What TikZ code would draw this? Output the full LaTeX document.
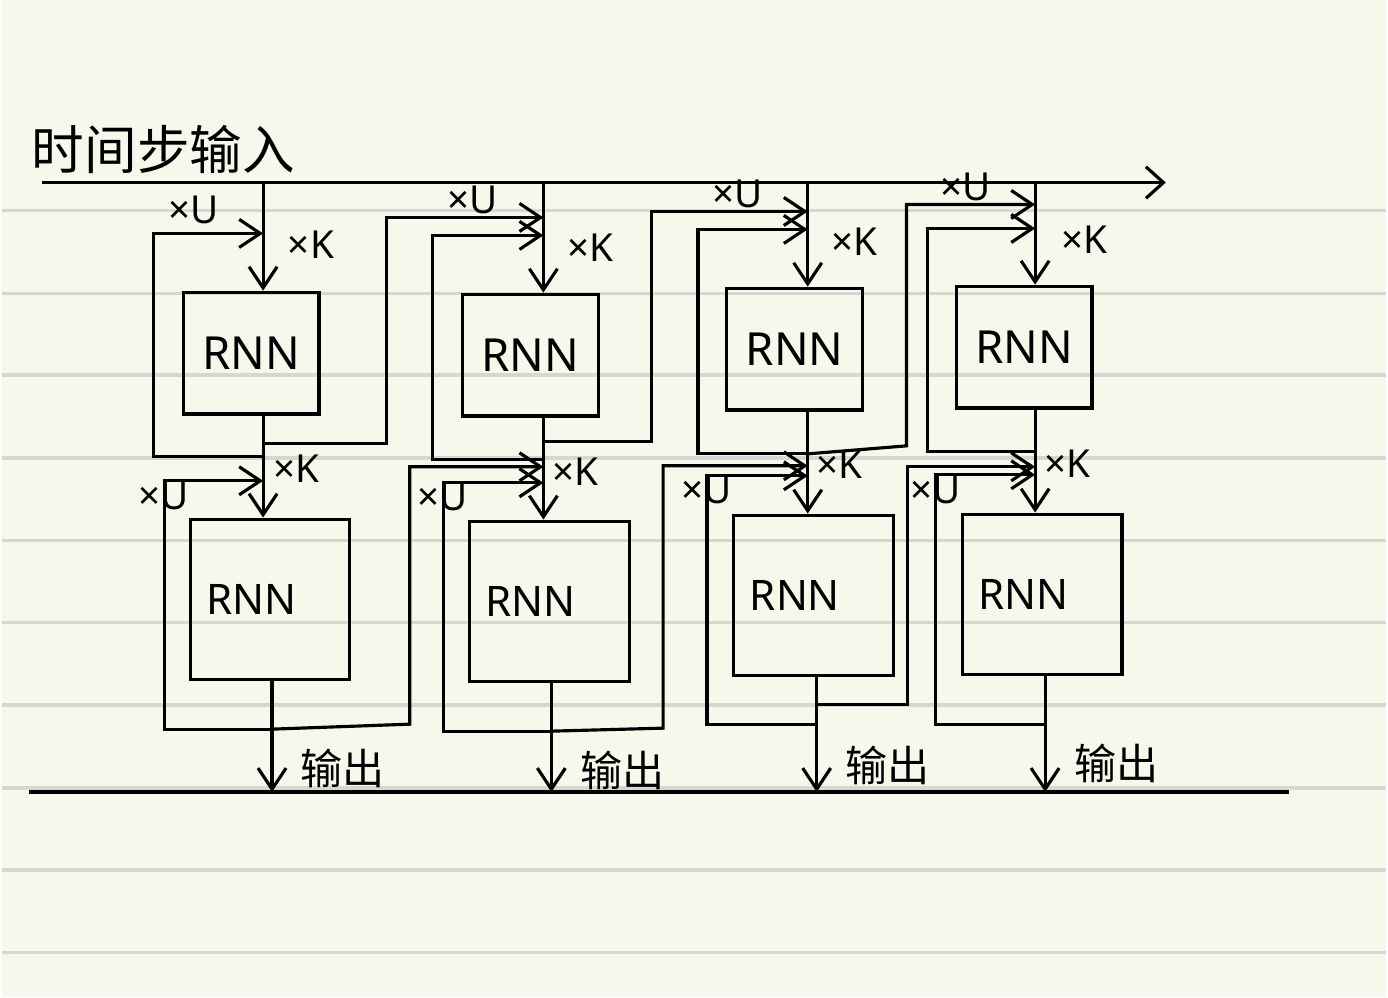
\documentclass[tikz,border=0pt]{standalone}
\usepackage{fontspec}
\setmainfont{Noto Sans}
\newfontfamily\cjk{Noto Sans CJK SC}
\usetikzlibrary{arrows.meta}
\definecolor{paper}{HTML}{F8F7EC}
\definecolor{ruling}{HTML}{D7D7D2}

\begin{document}
\begin{tikzpicture}[
  x=0.01cm, y=-0.01cm,
  line width=0.9pt,
  rnn/.style    = {draw, minimum width=1.36cm, minimum height=1.22cm,
                   font=\fontsize{13}{15}\selectfont},
  rnnlow/.style = {draw, minimum width=1.6cm, minimum height=1.61cm,
                   text width=1.28cm, inner xsep=0.16cm, align=left,
                   font=\fontsize{12}{14}\selectfont},
  arr/.style    = {-{Straight Barb[length=6pt,width=8pt]}},
  tarr/.style   = {-{Straight Barb[length=5pt,width=9pt]}},
  mlabel/.style = {font=\fontsize{11}{13}\selectfont, inner sep=1pt},
  olabel/.style = {font=\cjk\fontsize{12}{14}\selectfont, inner sep=1pt},
  rule/.style   = {draw=ruling, line width=1pt}
]

% paper
\fill[paper] (0,0) rectangle (1388,1000);
\draw[rule] (0,211) -- (1388,211) (0,294) -- (1388,294)
            (0,376) -- (1388,376) (0,459) -- (1388,459)
            (0,542) -- (1388,542) (0,624) -- (1388,624)
            (0,707) -- (1388,707) (0,790) -- (1388,790)
            (0,872) -- (1388,872) (0,955) -- (1388,955);

% time line and output line
\coordinate (tstart) at (40,183);
\coordinate (tend) at (1167,183);
\coordinate (ostart) at (27,794);
\coordinate (oend) at (1290,794);
\draw[tarr] (tstart) -- (tend);
\draw (ostart) -- (oend);
\node[font=\cjk\fontsize{15}{18}\selectfont] (title) at (162,150) {时间步输入};

% rnn cells
\node[rnn] (top1) at (250,354) {RNN};
\node[rnn] (top2) at (530,356) {RNN};
\node[rnn] (top3) at (795,350) {RNN};
\node[rnn] (top4) at (1025,348) {RNN};
\node[rnnlow] (bot1) at (269,601) {RNN};
\node[rnnlow] (bot2) at (549,603) {RNN};
\node[rnnlow] (bot3) at (814,597) {RNN};
\node[rnnlow] (bot4) at (1043,596) {RNN};

% junctions
\coordinate (tin1) at (262,183);
\coordinate (tin2) at (543,183);
\coordinate (tin3) at (808,183);
\coordinate (tin4) at (1036,183);
\coordinate (kc2) at (543,218);
\coordinate (kc3) at (808,212);
\coordinate (kc4) at (1036,205);
\coordinate (ku1) at (262,234);
\coordinate (ku2) at (543,236);
\coordinate (ku3) at (808,230);
\coordinate (ku4) at (1036,229);
\coordinate (cu1) at (262,445);
\coordinate (cu2) at (543,443);
\coordinate (mu1) at (262,458);
\coordinate (mu2) at (543,461);
\coordinate (mu3) at (808,455);
\coordinate (mu4) at (1036,453);
\coordinate (kx2) at (543,468);
\coordinate (kx3) at (808,467);
\coordinate (kx4) at (1036,468);
\coordinate (kl1) at (262,482);
\coordinate (kl2) at (543,484);
\coordinate (kl3) at (808,477);
\coordinate (kl4) at (1036,476);
\coordinate (lc3) at (817,706);
\coordinate (lo1) at (271,731);
\coordinate (lo2) at (551,733);
\coordinate (lo3) at (817,726);
\coordinate (lo4) at (1046,726);
\coordinate (out1) at (271,794);
\coordinate (out2) at (551,794);
\coordinate (out3) at (817,794);
\coordinate (out4) at (1046,794);

% inputs
\draw[arr] (tin1) -- (tin1 |- top1.north);
\draw[arr] (tin2) -- (tin2 |- top2.north);
\draw[arr] (tin3) -- (tin3 |- top3.north);
\draw[arr] (tin4) -- (tin4 |- top4.north);

% first layer to second layer
\draw[arr] (top1.south -| tin1) -- (bot1.north -| tin1);
\draw[arr] (top2.south -| tin2) -- (bot2.north -| tin2);
\draw[arr] (top3.south -| tin3) -- (bot3.north -| tin3);
\draw[arr] (top4.south -| tin4) -- (bot4.north -| tin4);

% outputs
\draw[arr] (bot1.south -| out1) -- (out1);
\draw[arr] (bot2.south -| out2) -- (out2);
\draw[arr] (bot3.south -| out3) -- (out3);
\draw[arr] (bot4.south -| out4) -- (out4);

% first layer recurrence
\draw[arr] (mu1) -- ++(-110,0) |- (ku1);
\draw[arr] (mu2) -- ++(-111,0) |- (ku2);
\draw[arr] (mu3) -- ++(-110,0) |- (ku3);
\draw[arr] (mu4) -- ++(-108,0) |- (ku4);
\draw[arr] (cu1) -- ++(124,0) |- (kc2);
\draw[arr] (cu2) -- ++(108,0) |- (kc3);
\draw[arr] (mu3) -- ++(99,-8) |- (kc4);

% second layer recurrence
\draw[arr] (lo1) -- ++(-108,0) |- (kl1);
\draw[arr] (lo2) -- ++(-108,0) |- (kl2);
\draw[arr] (lo3) -- ++(-110,0) |- (kl3);
\draw[arr] (lo4) -- ++(-110,0) |- (kl4);
\draw[arr] (lo1) -- ++(138,-5) |- (kx2);
\draw[arr] (lo2) -- ++(112,-3) |- (kx3);
\draw[arr] (lc3) -- ++(91,0) |- (kx4);

% labels
\node[mlabel, anchor=base] (ku1l) at (192,224) {×U};
\node[mlabel, anchor=base] (kc2l) at (472,214) {×U};
\node[mlabel, anchor=base] (kc3l) at (738,208) {×U};
\node[mlabel, anchor=base] (kc4l) at (966,201) {×U};
\node[mlabel] (k1l) at (310,245) {×K};
\node[mlabel] (k2l) at (590,248) {×K};
\node[mlabel] (k3l) at (855,242) {×K};
\node[mlabel] (k4l) at (1085,240) {×K};
\node[mlabel] (m1l) at (295,470) {×K};
\node[mlabel] (m2l) at (575,473) {×K};
\node[mlabel] (m3l) at (840,466) {×K};
\node[mlabel] (m4l) at (1068,465) {×K};
\node[mlabel] (kl1l) at (162,497) {×U};
\node[mlabel] (kl2l) at (442,498) {×U};
\node[mlabel] (kl3l) at (707,491) {×U};
\node[mlabel] (kl4l) at (936,491) {×U};
\node[olabel] (o1l) at (342,770) {输出};
\node[olabel] (o2l) at (622,772) {输出};
\node[olabel] (o3l) at (888,767) {输出};
\node[olabel] (o4l) at (1118,765) {输出};

\end{tikzpicture}
\end{document}
